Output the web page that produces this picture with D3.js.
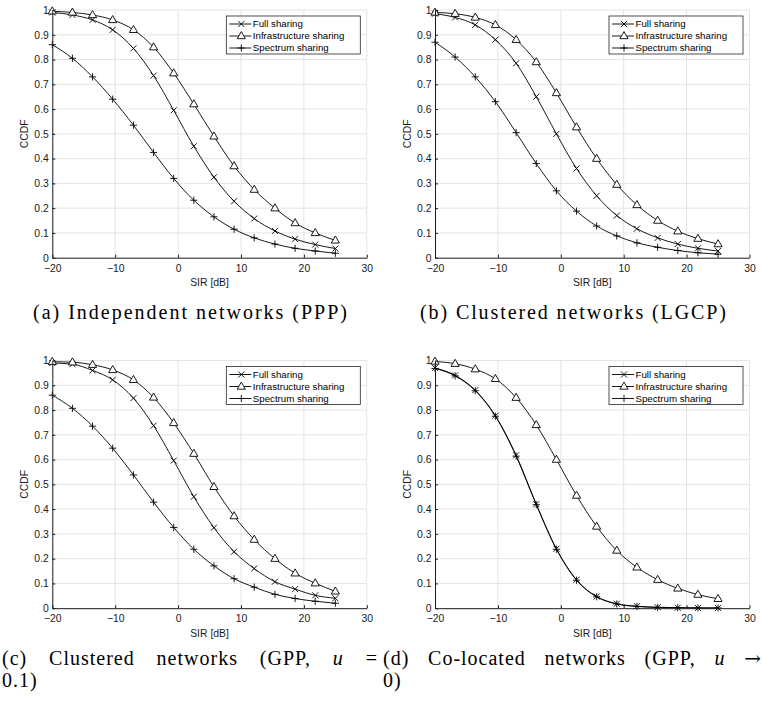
<!DOCTYPE html>
<html>
<head>
<meta charset="utf-8">
<script src="https://cdn.jsdelivr.net/npm/d3@7"></script>
<style>
  body { margin: 0; background: #fff; }
  svg { display: block; }
</style>
</head>
<body>
<svg id="fig" width="762" height="707"></svg>
<script>
// SIR values of the markers, ticks and series names
var sirPoints = [-20, -16.8, -13.6, -10.4, -7.1, -3.9, -0.7, 2.5, 5.7, 8.9, 12.1, 15.4, 18.6, 21.8, 25];
var sirTicks = [-20, -10, 0, 10, 20, 30];
var ccdfTicks = [0, 0.1, 0.2, 0.3, 0.4, 0.5, 0.6, 0.7, 0.8, 0.9, 1];
var seriesNames = ["Full sharing", "Infrastructure sharing", "Spectrum sharing"];
var seriesMarkers = ["cross", "triangle", "plus"];

// (a) independent networks
var fullA = [0.99, 0.98, 0.96, 0.92, 0.845, 0.735, 0.595, 0.45, 0.325, 0.228, 0.158, 0.108, 0.075, 0.053, 0.037];
var infraA = [0.995, 0.99, 0.98, 0.96, 0.92, 0.85, 0.745, 0.62, 0.49, 0.37, 0.275, 0.2, 0.14, 0.10, 0.07];
var specA = [0.86, 0.805, 0.73, 0.64, 0.535, 0.425, 0.32, 0.232, 0.165, 0.115, 0.08, 0.055, 0.038, 0.027, 0.018];

// (b) clustered LGCP
var fullB = [0.985, 0.97, 0.94, 0.88, 0.785, 0.65, 0.5, 0.36, 0.25, 0.17, 0.117, 0.08, 0.055, 0.038, 0.027];
var infraB = [0.99, 0.985, 0.97, 0.94, 0.88, 0.79, 0.665, 0.527, 0.4, 0.295, 0.213, 0.15, 0.107, 0.077, 0.055];
var specB = [0.87, 0.81, 0.73, 0.63, 0.505, 0.38, 0.27, 0.188, 0.128, 0.088, 0.06, 0.042, 0.029, 0.02, 0.014];

// (c) clustered GPP u = 0.1
var fullC = [0.99, 0.985, 0.96, 0.922, 0.848, 0.737, 0.596, 0.45, 0.325, 0.228, 0.16, 0.107, 0.077, 0.052, 0.04];
var infraC = [0.995, 0.993, 0.983, 0.962, 0.922, 0.851, 0.748, 0.624, 0.49, 0.372, 0.277, 0.2, 0.141, 0.101, 0.068];
var specC = [0.86, 0.807, 0.735, 0.646, 0.538, 0.428, 0.326, 0.238, 0.171, 0.119, 0.085, 0.056, 0.039, 0.028, 0.02];

// (d) co-located GPP u -> 0
var fullD = [0.97, 0.94, 0.88, 0.777, 0.617, 0.42, 0.24, 0.115, 0.047, 0.018, 0.008, 0.004, 0.002, 0.001, 0.001];
var infraD = [0.996, 0.987, 0.965, 0.926, 0.85, 0.74, 0.6, 0.455, 0.33, 0.233, 0.165, 0.115, 0.08, 0.055, 0.038];
var specD = [0.968, 0.938, 0.878, 0.775, 0.614, 0.418, 0.238, 0.113, 0.046, 0.017, 0.007, 0.003, 0.002, 0.001, 0.001];

var panels = [
  { left: 52.3, top: 10, series: [fullA, infraA, specA] },
  { left: 435, top: 10, series: [fullB, infraB, specB] },
  { left: 52.3, top: 360.5, series: [fullC, infraC, specC] },
  { left: 435, top: 360.5, series: [fullD, infraD, specD] }
];

var plotW = 314.5, plotH = 247.7;
var sansFont = "'Liberation Sans', Arial, sans-serif";
var serifFont = "'Liberation Serif', 'Times New Roman', serif";

var svg = d3.select("#fig");

var markerPaths = {
  cross: "M-3,-3L3,3M-3,3L3,-3",
  plus: "M-3.6,0H3.6M0,-3.6V3.6",
  triangle: "M0,-4.4L4.1,2.7L-4.1,2.7Z"
};

function drawMarker(g, type, x, y) {
  g.append("path")
    .attr("d", markerPaths[type])
    .attr("transform", `translate(${x},${y})`)
    .attr("fill", type == "triangle" ? "#fff" : "none")
    .attr("stroke", "#000")
    .attr("stroke-width", 0.9);
}

panels.forEach(function(p) {
  var g = svg.append("g").attr("transform", `translate(${p.left},${p.top})`);

  var x = d3.scaleLinear().domain([-20, 30]).range([0, plotW]);
  var y = d3.scaleLinear().domain([0, 1]).range([plotH, 0]);

  // grid
  g.selectAll(".gx").data(sirTicks.slice(1)).enter().append("line")
    .attr("x1", d => x(d)).attr("x2", d => x(d))
    .attr("y1", 0).attr("y2", plotH)
    .attr("stroke", "#e4e4e4").attr("stroke-width", 1);
  g.selectAll(".gy").data(ccdfTicks.slice(1)).enter().append("line")
    .attr("x1", 0).attr("x2", plotW)
    .attr("y1", d => y(d)).attr("y2", d => y(d))
    .attr("stroke", "#e4e4e4").attr("stroke-width", 1);

  // curves
  var line = d3.line()
    .x((d, i) => x(sirPoints[i]))
    .y(d => y(d))
    .curve(d3.curveMonotoneX);

  p.series.forEach(function(vals, si) {
    g.append("path")
      .attr("d", line(vals))
      .attr("fill", "none")
      .attr("stroke", "#000")
      .attr("stroke-width", 0.9);
  });
  p.series.forEach(function(vals, si) {
    vals.forEach(function(v, i) {
      drawMarker(g, seriesMarkers[si], x(sirPoints[i]), y(v));
    });
  });

  // axes
  var xAxis = d3.axisBottom(x).tickValues(sirTicks)
    .tickSizeInner(-3).tickSizeOuter(0).tickPadding(6.5);
  var yAxis = d3.axisLeft(y).tickValues(ccdfTicks)
    .tickSizeInner(-3).tickSizeOuter(0).tickPadding(3.5)
    .tickFormat(d3.format(".1~f"));

  var gx = g.append("g").attr("transform", `translate(0,${plotH})`).call(xAxis);
  var gy = g.append("g").call(yAxis);
  [gx, gy].forEach(function(a) {
    a.selectAll("path, line").attr("stroke", "#1a1a1a").attr("stroke-width", 1);
    a.selectAll("text").attr("font-family", sansFont).attr("font-size", "10.4px").attr("fill", "#1a1a1a");
  });

  // axis titles
  g.append("text")
    .attr("x", plotW / 2).attr("y", plotH + 28.5)
    .attr("text-anchor", "middle")
    .attr("font-family", sansFont).attr("font-size", "10.4px").attr("fill", "#1a1a1a")
    .text("SIR [dB]");
  g.append("text")
    .attr("transform", `translate(-24.5,${plotH / 2}) rotate(-90)`)
    .attr("text-anchor", "middle")
    .attr("font-family", sansFont).attr("font-size", "10.4px").attr("fill", "#1a1a1a")
    .text("CCDF");

  // legend
  var lw = 134, lh = 38;
  var lg = g.append("g").attr("transform", `translate(${plotW - 6.5 - lw},6)`);
  lg.append("rect").attr("width", lw).attr("height", lh)
    .attr("fill", "#fff").attr("stroke", "#262626").attr("stroke-width", 0.8);
  seriesNames.forEach(function(name, i) {
    var ly = 8 + i * 12;
    lg.append("line").attr("x1", 3).attr("x2", 25).attr("y1", ly).attr("y2", ly)
      .attr("stroke", "#000").attr("stroke-width", 0.9);
    drawMarker(lg, seriesMarkers[i], 15, ly);
    lg.append("text").attr("x", 26.5).attr("y", ly).attr("dy", "0.35em")
      .attr("font-family", sansFont).attr("font-size", "9.7px").attr("fill", "#000")
      .text(name);
  });
});

// captions
var capSize = 20;
function capText(x, y) {
  return svg.append("text").attr("x", x).attr("y", y)
    .attr("font-family", serifFont).attr("font-size", capSize + "px").attr("fill", "#000");
}

capText(190, 319).attr("text-anchor", "middle")
  .attr("textLength", 314).attr("lengthAdjust", "spacing")
  .text("(a) Independent networks (PPP)");
capText(573, 319).attr("text-anchor", "middle")
  .attr("textLength", 306).attr("lengthAdjust", "spacing")
  .text("(b) Clustered networks (LGCP)");

// justified first lines for (c) and (d)
function justified(words, x0, x1, yb) {
  var nodes = words.map(function(w) {
    var t = capText(0, yb).attr("letter-spacing", "1px").text(w.t);
    if (w.it) t.attr("font-style", "italic");
    if (w.sym) t.attr("font-family", "'DejaVu Serif', serif").attr("letter-spacing", "0px");
    return t;
  });
  var widths = nodes.map(n => n.node().getComputedTextLength());
  var gap = (x1 - x0 - d3.sum(widths)) / (words.length - 1);
  var cx = x0;
  nodes.forEach(function(n, i) {
    n.attr("x", cx);
    cx += widths[i] + gap;
  });
}

justified([{t: "(c)"}, {t: "Clustered"}, {t: "networks"}, {t: "(GPP,"}, {t: "u", it: true}, {t: "="}], 2, 378, 665);
capText(2, 687).attr("letter-spacing", "1px").text("0.1)");
justified([{t: "(d)"}, {t: "Co-located"}, {t: "networks"}, {t: "(GPP,"}, {t: "u", it: true}, {t: "\u2192", sym: true}], 383, 761, 665);
capText(383, 687).attr("letter-spacing", "1px").text("0)");
</script>
</body>
</html>
